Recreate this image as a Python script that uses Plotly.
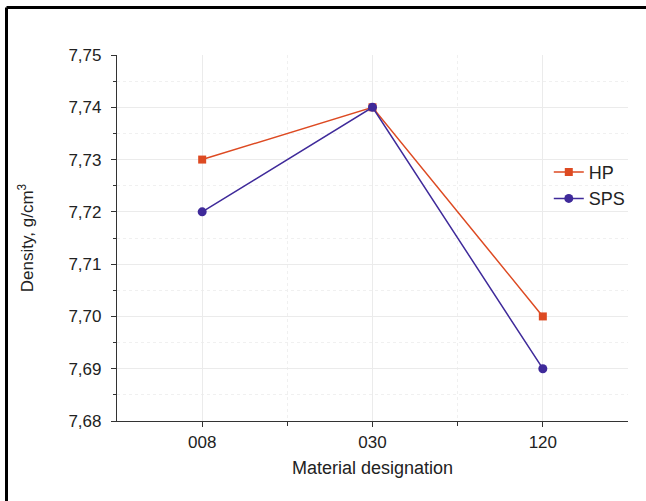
import plotly.graph_objects as go

categories = ["008", "030", "120"]
hp_values = [7.73, 7.74, 7.70]
sps_values = [7.72, 7.74, 7.69]
y_ticks = [7.68, 7.69, 7.70, 7.71, 7.72, 7.73, 7.74, 7.75]
y_tick_labels = ["7,68", "7,69", "7,70", "7,71", "7,72", "7,73", "7,74", "7,75"]

HP_COLOR = "#DD4A22"
SPS_COLOR = "#3F2A9A"

xpos = list(range(len(categories)))

fig = go.Figure()
fig.add_trace(go.Scatter(x=xpos, y=hp_values, name="HP", mode="lines+markers",
                         line=dict(color=HP_COLOR, width=1.5),
                         marker=dict(symbol="square", size=8, color=HP_COLOR)))
fig.add_trace(go.Scatter(x=xpos, y=sps_values, name="SPS", mode="lines+markers",
                         line=dict(color=SPS_COLOR, width=1.5),
                         marker=dict(symbol="circle", size=9, color=SPS_COLOR)))

L, R, T, B = 117, 18, 55, 80
W, H = 646, 501
pw, ph = W - L - R, H - T - B

fig.update_layout(
    width=W, height=H,
    margin=dict(l=L, r=R, t=T, b=B),
    paper_bgcolor="white", plot_bgcolor="white",
    font=dict(family="Arial, Liberation Sans", size=17, color="#222"),
    showlegend=True,
    legend=dict(x=0.845, y=0.73, xanchor="left", yanchor="top",
                bgcolor="rgba(0,0,0,0)", font=dict(size=18), itemwidth=30,
                tracegroupgap=0),
    xaxis=dict(
        range=[-0.5, 2.5], tickmode="array", tickvals=xpos, ticktext=categories,
        showline=True, linecolor="#333", linewidth=1.2,
        ticks="outside", ticklen=5, tickcolor="#333",
        tickfont=dict(size=17),
        showgrid=True, gridcolor="#ebebeb", gridwidth=1,
        minor=dict(tickvals=[0.5, 1.5], ticks="outside", ticklen=4, tickcolor="#333",
                   showgrid=True, gridcolor="#f0f0f0", griddash="dot"),
        zeroline=False,
        title=dict(text="Material designation", font=dict(size=18), standoff=10),
    ),
    yaxis=dict(
        range=[7.68, 7.75], tickmode="array", tickvals=y_ticks, ticktext=y_tick_labels,
        showline=True, linecolor="#333", linewidth=1.2,
        ticks="outside", ticklen=5, tickcolor="#333",
        tickfont=dict(size=17), ticklabelstandoff=6,
        showgrid=True, gridcolor="#ebebeb", gridwidth=1,
        minor=dict(dtick=0.005, ticks="outside", ticklen=3, tickcolor="#333",
                   showgrid=True, gridcolor="#f0f0f0", griddash="dot"),
        zeroline=False,
        title=dict(text="Density, g/cm<sup>3</sup>", font=dict(size=17), standoff=30),
    ),
)

# outer frame (top and left edges visible)
x0 = (6.5 - L) / pw
x1 = (W - L) / pw
ytop = (H - B - 7.5) / ph
ybot = -B / ph
fig.add_shape(type="line", xref="paper", yref="paper", x0=x0, x1=x1, y0=ytop, y1=ytop,
              line=dict(color="black", width=3))
fig.add_shape(type="line", xref="paper", yref="paper", x0=x0, x1=x0, y0=ybot, y1=ytop,
              line=dict(color="black", width=3))

fig.write_html("out.html")
